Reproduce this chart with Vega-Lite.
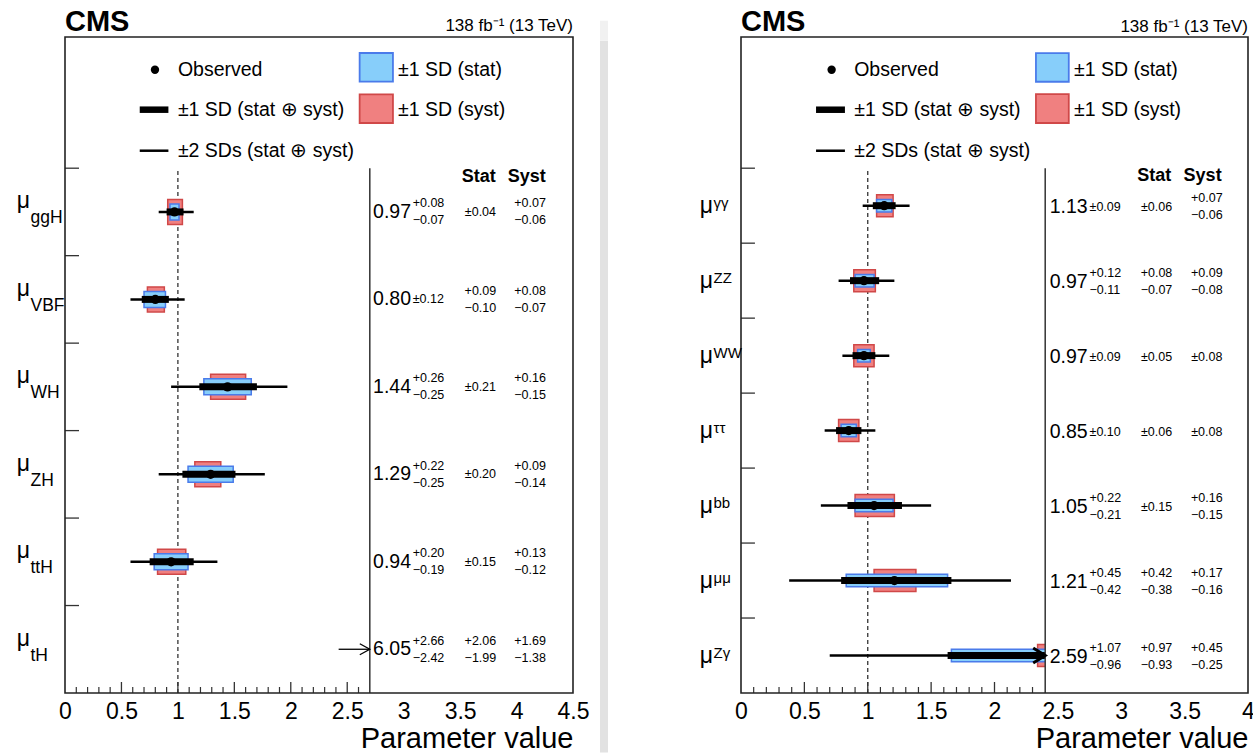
{
  "$schema": "https://vega.github.io/schema/vega-lite/v6.json",
  "background": "white",
  "padding": {"left": 16, "top": 8, "right": 0, "bottom": 0},
  "config": {"view": {"stroke": null}, "font": "Liberation Sans",
    "axisX": {"ticks": false, "domain": false, "grid": false, "labelFontSize": 23, "labelColor": "black", "labelPadding": 7, "labelFlush": false, "labelOverlap": false, "titleFontSize": 29, "titleFontWeight": "normal", "titleColor": "black", "titleAnchor": "end", "titlePadding": 1.5}},
  "datasets": {
    "prod": [
      {"sub": "ggH", "rank": 6, "val": 0.97, "t1a": 0.90, "t1b": 1.05, "sta": 0.93, "stb": 1.01, "sya": 0.91, "syb": 1.04, "t2a": 0.83, "t2b": 1.14, "valTxt": "0.97", "totUp": "+0.08", "totDn": "−0.07", "totSym": "", "statUp": "", "statDn": "", "statSym": "±0.04", "systUp": "+0.07", "systDn": "−0.06", "systSym": ""},
      {"sub": "VBF", "rank": 5, "val": 0.80, "t1a": 0.68, "t1b": 0.92, "sta": 0.70, "stb": 0.89, "sya": 0.73, "syb": 0.88, "t2a": 0.58, "t2b": 1.06, "valTxt": "0.80", "totUp": "", "totDn": "", "totSym": "±0.12", "statUp": "+0.09", "statDn": "−0.10", "statSym": "", "systUp": "+0.08", "systDn": "−0.07", "systSym": ""},
      {"sub": "WH", "rank": 4, "val": 1.44, "t1a": 1.19, "t1b": 1.70, "sta": 1.23, "stb": 1.65, "sya": 1.29, "syb": 1.60, "t2a": 0.94, "t2b": 1.97, "valTxt": "1.44", "totUp": "+0.26", "totDn": "−0.25", "totSym": "", "statUp": "", "statDn": "", "statSym": "±0.21", "systUp": "+0.16", "systDn": "−0.15", "systSym": ""},
      {"sub": "ZH", "rank": 3, "val": 1.29, "t1a": 1.04, "t1b": 1.51, "sta": 1.09, "stb": 1.49, "sya": 1.15, "syb": 1.38, "t2a": 0.83, "t2b": 1.77, "valTxt": "1.29", "totUp": "+0.22", "totDn": "−0.25", "totSym": "", "statUp": "", "statDn": "", "statSym": "±0.20", "systUp": "+0.09", "systDn": "−0.14", "systSym": ""},
      {"sub": "ttH", "rank": 2, "val": 0.94, "t1a": 0.75, "t1b": 1.14, "sta": 0.79, "stb": 1.09, "sya": 0.82, "syb": 1.07, "t2a": 0.58, "t2b": 1.35, "valTxt": "0.94", "totUp": "+0.20", "totDn": "−0.19", "totSym": "", "statUp": "", "statDn": "", "statSym": "±0.15", "systUp": "+0.13", "systDn": "−0.12", "systSym": ""},
      {"sub": "tH", "rank": 1, "val": 6.05, "t1a": 3.63, "t1b": 8.71, "sta": 4.06, "stb": 8.11, "sya": 4.67, "syb": 7.74, "t2a": null, "t2b": null, "valTxt": "6.05", "totUp": "+2.66", "totDn": "−2.42", "totSym": "", "statUp": "+2.06", "statDn": "−1.99", "statSym": "", "systUp": "+1.69", "systDn": "−1.38", "systSym": ""}
    ],
    "decay": [
      {"sub": "γγ", "rank": 7, "val": 1.13, "t1a": 1.04, "t1b": 1.22, "sta": 1.07, "stb": 1.19, "sya": 1.07, "syb": 1.20, "t2a": 0.96, "t2b": 1.33, "valTxt": "1.13", "totUp": "", "totDn": "", "totSym": "±0.09", "statUp": "", "statDn": "", "statSym": "±0.06", "systUp": "+0.07", "systDn": "−0.06", "systSym": ""},
      {"sub": "ZZ", "rank": 6, "val": 0.97, "t1a": 0.86, "t1b": 1.09, "sta": 0.90, "stb": 1.05, "sya": 0.89, "syb": 1.06, "t2a": 0.77, "t2b": 1.21, "valTxt": "0.97", "totUp": "+0.12", "totDn": "−0.11", "totSym": "", "statUp": "+0.08", "statDn": "−0.07", "statSym": "", "systUp": "+0.09", "systDn": "−0.08", "systSym": ""},
      {"sub": "WW", "rank": 5, "val": 0.97, "t1a": 0.88, "t1b": 1.06, "sta": 0.92, "stb": 1.02, "sya": 0.89, "syb": 1.05, "t2a": 0.80, "t2b": 1.17, "valTxt": "0.97", "totUp": "", "totDn": "", "totSym": "±0.09", "statUp": "", "statDn": "", "statSym": "±0.05", "systUp": "", "systDn": "", "systSym": "±0.08"},
      {"sub": "ττ", "rank": 4, "val": 0.85, "t1a": 0.75, "t1b": 0.95, "sta": 0.79, "stb": 0.91, "sya": 0.77, "syb": 0.93, "t2a": 0.66, "t2b": 1.06, "valTxt": "0.85", "totUp": "", "totDn": "", "totSym": "±0.10", "statUp": "", "statDn": "", "statSym": "±0.06", "systUp": "", "systDn": "", "systSym": "±0.08"},
      {"sub": "bb", "rank": 3, "val": 1.05, "t1a": 0.84, "t1b": 1.27, "sta": 0.90, "stb": 1.20, "sya": 0.90, "syb": 1.21, "t2a": 0.63, "t2b": 1.50, "valTxt": "1.05", "totUp": "+0.22", "totDn": "−0.21", "totSym": "", "statUp": "", "statDn": "", "statSym": "±0.15", "systUp": "+0.16", "systDn": "−0.15", "systSym": ""},
      {"sub": "μμ", "rank": 2, "val": 1.21, "t1a": 0.79, "t1b": 1.66, "sta": 0.83, "stb": 1.63, "sya": 1.05, "syb": 1.38, "t2a": 0.38, "t2b": 2.13, "valTxt": "1.21", "totUp": "+0.45", "totDn": "−0.42", "totSym": "", "statUp": "+0.42", "statDn": "−0.38", "statSym": "", "systUp": "+0.17", "systDn": "−0.16", "systSym": ""},
      {"sub": "Zγ", "rank": 1, "val": 2.59, "t1a": 1.63, "t1b": 3.66, "sta": 1.66, "stb": 3.56, "sya": 2.34, "syb": 3.04, "t2a": 0.70, "t2b": 4.7, "valTxt": "2.59", "totUp": "+1.07", "totDn": "−0.96", "totSym": "", "statUp": "+0.97", "statDn": "−0.93", "statSym": "", "systUp": "+0.45", "systDn": "−0.25", "systSym": ""}
    ],
    "majorTicks": [{"v": 0.5}, {"v": 1}, {"v": 1.5}, {"v": 2}, {"v": 2.5}],
    "minorTicks": [{"v": 0.1}, {"v": 0.2}, {"v": 0.3}, {"v": 0.4}, {"v": 0.6}, {"v": 0.7}, {"v": 0.8}, {"v": 0.9}, {"v": 1.1}, {"v": 1.2}, {"v": 1.3}, {"v": 1.4}, {"v": 1.6}, {"v": 1.7}, {"v": 1.8}, {"v": 1.9}, {"v": 2.1}, {"v": 2.2}, {"v": 2.3}, {"v": 2.4}, {"v": 2.6}],
    "rowTicks": [{"v": 1.5}, {"v": 2.5}, {"v": 3.5}, {"v": 4.5}, {"v": 5.5}, {"v": 6.5}, {"v": 7.5}]
  },
  "spacing": 168,
  "bounds": "flush",
  "hconcat": [
    {
      "width": 508,
      "height": 656,
      "layer": [
        {"data": {"values": [{}]}, "mark": {"type": "rect", "color": "#e2e2e2"},
         "encoding": {"x": {"datum": 4.739, "type": "quantitative"}, "x2": {"datum": 4.81}, "y": {"datum": -0.18, "type": "quantitative", "axis": null}, "y2": {"datum": 7.957}}},
        {"data": {"values": [{}]}, "mark": {"type": "rect", "color": "#f1f1f1"},
         "encoding": {"x": {"datum": 4.739, "type": "quantitative"}, "x2": {"datum": 4.81}, "y": {"datum": 7.957, "type": "quantitative", "axis": null}, "y2": {"datum": 8.186}}},
        {"data": {"values": [{}]}, "mark": {"type": "rule", "color": "#333", "strokeWidth": 1.3, "strokeDash": [4, 3]},
         "encoding": {"x": {"datum": 1, "type": "quantitative"}, "y": {"datum": 0.5, "type": "quantitative", "axis": null}, "y2": {"datum": 6.5}}},
        {"data": {"name": "prod"}, "mark": {"type": "bar", "orient": "horizontal", "size": 25, "fill": "#F08080", "stroke": "#D04848", "strokeWidth": 1.5, "clip": true},
         "encoding": {"x": {"field": "sya", "type": "quantitative"}, "x2": {"field": "syb"}, "y": {"field": "rank", "type": "quantitative", "axis": null}}},
        {"data": {"name": "prod"}, "mark": {"type": "bar", "orient": "horizontal", "size": 16, "fill": "#87CEFA", "stroke": "#4A7BEA", "strokeWidth": 1.5, "clip": true},
         "encoding": {"x": {"field": "sta", "type": "quantitative"}, "x2": {"field": "stb"}, "y": {"field": "rank", "type": "quantitative", "axis": null}}},
        {"data": {"name": "prod"}, "mark": {"type": "rule", "color": "black", "strokeWidth": 2.5, "clip": true},
         "encoding": {"x": {"field": "t2a", "type": "quantitative"}, "x2": {"field": "t2b"}, "y": {"field": "rank", "type": "quantitative", "axis": null}}},
        {"data": {"name": "prod"}, "mark": {"type": "rule", "color": "black", "strokeWidth": 7, "clip": true},
         "encoding": {"x": {"field": "t1a", "type": "quantitative"}, "x2": {"field": "t1b"}, "y": {"field": "rank", "type": "quantitative", "axis": null}}},
        {"data": {"name": "prod"}, "mark": {"type": "point", "filled": true, "color": "black", "size": 85, "opacity": 1, "clip": true},
         "encoding": {"x": {"field": "val", "type": "quantitative"}, "y": {"field": "rank", "type": "quantitative", "axis": null}}},
        {"data": {"values": [{}]}, "mark": {"type": "rect", "color": "white"},
         "encoding": {"x": {"datum": 2.7, "type": "quantitative"}, "x2": {"datum": 4.5}, "y": {"datum": 0.5, "type": "quantitative", "axis": null}, "y2": {"datum": 6.5}}},
        {"data": {"values": [{}]}, "mark": {"type": "rule", "color": "#333", "strokeWidth": 1.5},
         "encoding": {"x": {"datum": 2.7, "type": "quantitative"}, "y": {"datum": 0.5, "type": "quantitative", "axis": null}, "y2": {"datum": 6.5}}},
        {"data": {"name": "prod"}, "transform": [{"filter": "datum.val > 2.7"}], "mark": {"type": "rule", "color": "black", "strokeWidth": 1.3},
         "encoding": {"x": {"datum": 2.424, "type": "quantitative"}, "x2": {"datum": 2.7}, "y": {"field": "rank", "type": "quantitative", "axis": null}}},
        {"data": {"name": "prod"}, "transform": [{"filter": "datum.val > 2.7"}], "mark": {"type": "point", "shape": "M-1,-0.55L0,0L-1,0.55", "filled": false, "color": "black", "strokeWidth": 1.3, "size": 400, "opacity": 1},
         "encoding": {"x": {"datum": 2.7, "type": "quantitative"}, "y": {"field": "rank", "type": "quantitative", "axis": null}}},
        {"data": {"name": "rowTicks"}, "transform": [{"filter": "datum.v < 7"}], "mark": {"type": "rule", "color": "#333", "strokeWidth": 1.3},
         "encoding": {"x": {"datum": 0, "type": "quantitative"}, "x2": {"datum": 0.124}, "y": {"field": "v", "type": "quantitative", "axis": null}}},
        {"data": {"name": "majorTicks"}, "mark": {"type": "rule", "color": "#333", "strokeWidth": 1.3},
         "encoding": {
           "x": {"field": "v", "type": "quantitative", "scale": {"domain": [0, 4.5], "nice": false, "zero": false, "padding": 0},
                 "axis": {"values": [0, 0.5, 1, 1.5, 2, 2.5, 3, 3.5, 4, 4.5], "format": "~g", "ticks": false, "domain": false, "grid": false, "labelFontSize": 23, "labelColor": "black", "labelPadding": 7, "labelFlush": false, "labelOverlap": false, "title": "Parameter value", "titleFontSize": 29, "titleFontWeight": "normal", "titleColor": "black", "titleAnchor": "end", "titlePadding": 1.5}},
           "y": {"datum": 0.5, "type": "quantitative", "axis": null}, "y2": {"datum": 0.626}}},
        {"data": {"name": "minorTicks"}, "mark": {"type": "rule", "color": "#333", "strokeWidth": 1.2},
         "encoding": {"x": {"field": "v", "type": "quantitative"}, "y": {"datum": 0.5, "type": "quantitative", "axis": null}, "y2": {"datum": 0.5686}}},
        {"data": {"values": [{}]}, "mark": {"type": "rect", "fill": "transparent", "stroke": "#222", "strokeWidth": 1.6},
         "encoding": {"x": {"datum": 0, "type": "quantitative"}, "x2": {"datum": 4.5}, "y": {"datum": 0.5, "type": "quantitative", "scale": {"domain": [0.5, 8], "nice": false, "zero": false, "padding": 0}, "axis": null}, "y2": {"datum": 8}}},
        {"data": {"values": [{}]}, "mark": {"type": "text", "align": "left", "baseline": "alphabetic", "fontSize": 29, "fontWeight": "bold", "color": "black"},
         "encoding": {"text": {"value": "CMS"}, "x": {"datum": 0, "type": "quantitative"}, "y": {"datum": 8.066, "type": "quantitative", "axis": null}}},
        {"data": {"values": [{}]}, "mark": {"type": "text", "align": "right", "baseline": "alphabetic", "fontSize": 17, "color": "black"},
         "encoding": {"text": {"value": "138 fb⁻¹ (13 TeV)"}, "x": {"datum": 4.5, "type": "quantitative"}, "y": {"datum": 8.064, "type": "quantitative", "axis": null}}},
        {"data": {"values": [{}]}, "mark": {"type": "point", "filled": true, "color": "black", "size": 70, "opacity": 1},
         "encoding": {"x": {"datum": 0.797, "type": "quantitative"}, "y": {"datum": 7.626, "type": "quantitative", "axis": null}}},
        {"data": {"values": [{}]}, "mark": {"type": "rule", "color": "black", "strokeWidth": 6.5},
         "encoding": {"x": {"datum": 0.662, "type": "quantitative"}, "x2": {"datum": 0.916}, "y": {"datum": 7.169, "type": "quantitative", "axis": null}}},
        {"data": {"values": [{}]}, "mark": {"type": "rule", "color": "black", "strokeWidth": 2.5},
         "encoding": {"x": {"datum": 0.662, "type": "quantitative"}, "x2": {"datum": 0.916}, "y": {"datum": 6.70, "type": "quantitative", "axis": null}}},
        {"data": {"values": [{}]}, "mark": {"type": "rect", "fill": "#87CEFA", "stroke": "#4A7BEA", "strokeWidth": 1.8},
         "encoding": {"x": {"datum": 2.61, "type": "quantitative"}, "x2": {"datum": 2.905}, "y": {"datum": 7.489, "type": "quantitative", "axis": null}, "y2": {"datum": 7.817}}},
        {"data": {"values": [{}]}, "mark": {"type": "rect", "fill": "#F08080", "stroke": "#D04848", "strokeWidth": 1.8},
         "encoding": {"x": {"datum": 2.61, "type": "quantitative"}, "x2": {"datum": 2.905}, "y": {"datum": 7.017, "type": "quantitative", "axis": null}, "y2": {"datum": 7.345}}},
        {"data": {"values": [{}]}, "mark": {"type": "text", "align": "left", "baseline": "middle", "fontSize": 19.5, "color": "black"},
         "encoding": {"text": {"value": "Observed"}, "x": {"datum": 1.0, "type": "quantitative"}, "y": {"datum": 7.626, "type": "quantitative", "axis": null}}},
        {"data": {"values": [{}]}, "mark": {"type": "text", "align": "left", "baseline": "middle", "fontSize": 19.5, "color": "black"},
         "encoding": {"text": {"value": "±1 SD (stat ⊕ syst)"}, "x": {"datum": 1.0, "type": "quantitative"}, "y": {"datum": 7.169, "type": "quantitative", "axis": null}}},
        {"data": {"values": [{}]}, "mark": {"type": "text", "align": "left", "baseline": "middle", "fontSize": 19.5, "color": "black"},
         "encoding": {"text": {"value": "±2 SDs (stat ⊕ syst)"}, "x": {"datum": 1.0, "type": "quantitative"}, "y": {"datum": 6.70, "type": "quantitative", "axis": null}}},
        {"data": {"values": [{}]}, "mark": {"type": "text", "align": "left", "baseline": "middle", "fontSize": 19.5, "color": "black"},
         "encoding": {"text": {"value": "±1 SD (stat)"}, "x": {"datum": 2.95, "type": "quantitative"}, "y": {"datum": 7.626, "type": "quantitative", "axis": null}}},
        {"data": {"values": [{}]}, "mark": {"type": "text", "align": "left", "baseline": "middle", "fontSize": 19.5, "color": "black"},
         "encoding": {"text": {"value": "±1 SD (syst)"}, "x": {"datum": 2.95, "type": "quantitative"}, "y": {"datum": 7.169, "type": "quantitative", "axis": null}}},
        {"data": {"values": [{}]}, "mark": {"type": "text", "align": "center", "baseline": "middle", "fontSize": 18, "fontWeight": "bold", "color": "black"},
         "encoding": {"text": {"value": "Stat"}, "x": {"datum": 3.665, "type": "quantitative"}, "y": {"datum": 6.395, "type": "quantitative", "axis": null}}},
        {"data": {"values": [{}]}, "mark": {"type": "text", "align": "center", "baseline": "middle", "fontSize": 18, "fontWeight": "bold", "color": "black"},
         "encoding": {"text": {"value": "Syst"}, "x": {"datum": 4.09, "type": "quantitative"}, "y": {"datum": 6.395, "type": "quantitative", "axis": null}}},
        {"data": {"name": "prod"}, "mark": {"type": "text", "align": "right", "baseline": "middle", "fontSize": 19.5, "color": "black"},
         "encoding": {"text": {"field": "valTxt"}, "x": {"datum": 3.065, "type": "quantitative"}, "y": {"field": "rank", "type": "quantitative", "axis": null}}},
        {"data": {"name": "prod"}, "mark": {"type": "text", "align": "left", "baseline": "middle", "fontSize": 12.5, "dy": -8.5, "color": "black"},
         "encoding": {"text": {"field": "totUp"}, "x": {"datum": 3.08, "type": "quantitative"}, "y": {"field": "rank", "type": "quantitative", "axis": null}}},
        {"data": {"name": "prod"}, "mark": {"type": "text", "align": "left", "baseline": "middle", "fontSize": 12.5, "dy": 8.5, "color": "black"},
         "encoding": {"text": {"field": "totDn"}, "x": {"datum": 3.08, "type": "quantitative"}, "y": {"field": "rank", "type": "quantitative", "axis": null}}},
        {"data": {"name": "prod"}, "mark": {"type": "text", "align": "left", "baseline": "middle", "fontSize": 12.5, "color": "black"},
         "encoding": {"text": {"field": "totSym"}, "x": {"datum": 3.08, "type": "quantitative"}, "y": {"field": "rank", "type": "quantitative", "axis": null}}},
        {"data": {"name": "prod"}, "mark": {"type": "text", "align": "center", "baseline": "middle", "fontSize": 12.5, "dy": -8.5, "color": "black"},
         "encoding": {"text": {"field": "statUp"}, "x": {"datum": 3.68, "type": "quantitative"}, "y": {"field": "rank", "type": "quantitative", "axis": null}}},
        {"data": {"name": "prod"}, "mark": {"type": "text", "align": "center", "baseline": "middle", "fontSize": 12.5, "dy": 8.5, "color": "black"},
         "encoding": {"text": {"field": "statDn"}, "x": {"datum": 3.68, "type": "quantitative"}, "y": {"field": "rank", "type": "quantitative", "axis": null}}},
        {"data": {"name": "prod"}, "mark": {"type": "text", "align": "center", "baseline": "middle", "fontSize": 12.5, "color": "black"},
         "encoding": {"text": {"field": "statSym"}, "x": {"datum": 3.68, "type": "quantitative"}, "y": {"field": "rank", "type": "quantitative", "axis": null}}},
        {"data": {"name": "prod"}, "mark": {"type": "text", "align": "center", "baseline": "middle", "fontSize": 12.5, "dy": -8.5, "color": "black"},
         "encoding": {"text": {"field": "systUp"}, "x": {"datum": 4.12, "type": "quantitative"}, "y": {"field": "rank", "type": "quantitative", "axis": null}}},
        {"data": {"name": "prod"}, "mark": {"type": "text", "align": "center", "baseline": "middle", "fontSize": 12.5, "dy": 8.5, "color": "black"},
         "encoding": {"text": {"field": "systDn"}, "x": {"datum": 4.12, "type": "quantitative"}, "y": {"field": "rank", "type": "quantitative", "axis": null}}},
        {"data": {"name": "prod"}, "mark": {"type": "text", "align": "center", "baseline": "middle", "fontSize": 12.5, "color": "black"},
         "encoding": {"text": {"field": "systSym"}, "x": {"datum": 4.12, "type": "quantitative"}, "y": {"field": "rank", "type": "quantitative", "axis": null}}},
        {"data": {"name": "prod"}, "mark": {"type": "text", "align": "right", "baseline": "alphabetic", "fontSize": 23, "dy": -3.5, "color": "black"},
         "encoding": {"text": {"value": "μ"}, "x": {"datum": -0.31, "type": "quantitative"}, "y": {"field": "rank", "type": "quantitative", "axis": null}}},
        {"data": {"name": "prod"}, "mark": {"type": "text", "align": "left", "baseline": "alphabetic", "fontSize": 17.5, "dy": 11.3, "color": "black"},
         "encoding": {"text": {"field": "sub"}, "x": {"datum": -0.306, "type": "quantitative"}, "y": {"field": "rank", "type": "quantitative", "axis": null}}}
      ]
    },
    {
      "width": 507,
      "height": 656,
      "layer": [
        {"data": {"values": [{}]}, "mark": {"type": "rule", "color": "#333", "strokeWidth": 1.3, "strokeDash": [4, 3]},
         "encoding": {"x": {"datum": 1, "type": "quantitative"}, "y": {"datum": 0.5, "type": "quantitative", "axis": null}, "y2": {"datum": 7.5}}},
        {"data": {"name": "decay"}, "mark": {"type": "bar", "orient": "horizontal", "size": 22, "fill": "#F08080", "stroke": "#D04848", "strokeWidth": 1.5, "clip": true},
         "encoding": {"x": {"field": "sya", "type": "quantitative"}, "x2": {"field": "syb"}, "y": {"field": "rank", "type": "quantitative", "axis": null}}},
        {"data": {"name": "decay"}, "mark": {"type": "bar", "orient": "horizontal", "size": 12.5, "fill": "#87CEFA", "stroke": "#4A7BEA", "strokeWidth": 1.5, "clip": true},
         "encoding": {"x": {"field": "sta", "type": "quantitative"}, "x2": {"field": "stb"}, "y": {"field": "rank", "type": "quantitative", "axis": null}}},
        {"data": {"name": "decay"}, "mark": {"type": "rule", "color": "black", "strokeWidth": 2.5, "clip": true},
         "encoding": {"x": {"field": "t2a", "type": "quantitative"}, "x2": {"field": "t2b"}, "y": {"field": "rank", "type": "quantitative", "axis": null}}},
        {"data": {"name": "decay"}, "mark": {"type": "rule", "color": "black", "strokeWidth": 7, "clip": true},
         "encoding": {"x": {"field": "t1a", "type": "quantitative"}, "x2": {"field": "t1b"}, "y": {"field": "rank", "type": "quantitative", "axis": null}}},
        {"data": {"name": "decay"}, "mark": {"type": "point", "filled": true, "color": "black", "size": 85, "opacity": 1, "clip": true},
         "encoding": {"x": {"field": "val", "type": "quantitative"}, "y": {"field": "rank", "type": "quantitative", "axis": null}}},
        {"data": {"values": [{}]}, "mark": {"type": "rect", "color": "white"},
         "encoding": {"x": {"datum": 2.4, "type": "quantitative"}, "x2": {"datum": 4.0}, "y": {"datum": 0.5, "type": "quantitative", "axis": null}, "y2": {"datum": 7.5}}},
        {"data": {"values": [{}]}, "mark": {"type": "rule", "color": "#333", "strokeWidth": 1.5},
         "encoding": {"x": {"datum": 2.4, "type": "quantitative"}, "y": {"datum": 0.5, "type": "quantitative", "axis": null}, "y2": {"datum": 7.5}}},
        {"data": {"name": "decay"}, "transform": [{"filter": "datum.val > 2.4"}], "mark": {"type": "point", "shape": "M-1,-0.62L0,0L-1,0.62", "filled": false, "color": "black", "strokeWidth": 3, "size": 576, "opacity": 1},
         "encoding": {"x": {"datum": 2.4, "type": "quantitative"}, "y": {"field": "rank", "type": "quantitative", "axis": null}}},
        {"data": {"name": "rowTicks"}, "mark": {"type": "rule", "color": "#333", "strokeWidth": 1.3},
         "encoding": {"x": {"datum": 0, "type": "quantitative"}, "x2": {"datum": 0.11}, "y": {"field": "v", "type": "quantitative", "axis": null}}},
        {"data": {"name": "majorTicks"}, "transform": [{"filter": "datum.v < 2.4"}], "mark": {"type": "rule", "color": "#333", "strokeWidth": 1.3},
         "encoding": {
           "x": {"field": "v", "type": "quantitative", "scale": {"domain": [0, 4], "nice": false, "zero": false, "padding": 0},
                 "axis": {"values": [0, 0.5, 1, 1.5, 2, 2.5, 3, 3.5, 4], "format": "~g", "ticks": false, "domain": false, "grid": false, "labelFontSize": 23, "labelColor": "black", "labelPadding": 7, "labelFlush": false, "labelOverlap": false, "title": "Parameter value", "titleFontSize": 29, "titleFontWeight": "normal", "titleColor": "black", "titleAnchor": "end", "titlePadding": 1.5}},
           "y": {"datum": 0.5, "type": "quantitative", "axis": null}, "y2": {"datum": 0.6467}}},
        {"data": {"name": "minorTicks"}, "transform": [{"filter": "datum.v < 2.35"}], "mark": {"type": "rule", "color": "#333", "strokeWidth": 1.2},
         "encoding": {"x": {"field": "v", "type": "quantitative"}, "y": {"datum": 0.5, "type": "quantitative", "axis": null}, "y2": {"datum": 0.58}}},
        {"data": {"values": [{}]}, "mark": {"type": "rect", "fill": "transparent", "stroke": "#222", "strokeWidth": 1.6},
         "encoding": {"x": {"datum": 0, "type": "quantitative"}, "x2": {"datum": 4}, "y": {"datum": 0.5, "type": "quantitative", "scale": {"domain": [0.5, 9.25], "nice": false, "zero": false, "padding": 0}, "axis": null}, "y2": {"datum": 9.25}}},
        {"data": {"values": [{}]}, "mark": {"type": "text", "align": "left", "baseline": "alphabetic", "fontSize": 29, "fontWeight": "bold", "color": "black"},
         "encoding": {"text": {"value": "CMS"}, "x": {"datum": 0, "type": "quantitative"}, "y": {"datum": 9.327, "type": "quantitative", "axis": null}}},
        {"data": {"values": [{}]}, "mark": {"type": "text", "align": "right", "baseline": "alphabetic", "fontSize": 17, "color": "black"},
         "encoding": {"text": {"value": "138 fb⁻¹ (13 TeV)"}, "x": {"datum": 4, "type": "quantitative"}, "y": {"datum": 9.323, "type": "quantitative", "axis": null}}},
        {"data": {"values": [{}]}, "mark": {"type": "point", "filled": true, "color": "black", "size": 70, "opacity": 1},
         "encoding": {"x": {"datum": 0.715, "type": "quantitative"}, "y": {"datum": 8.813, "type": "quantitative", "axis": null}}},
        {"data": {"values": [{}]}, "mark": {"type": "rule", "color": "black", "strokeWidth": 6.5},
         "encoding": {"x": {"datum": 0.592, "type": "quantitative"}, "x2": {"datum": 0.82}, "y": {"datum": 8.28, "type": "quantitative", "axis": null}}},
        {"data": {"values": [{}]}, "mark": {"type": "rule", "color": "black", "strokeWidth": 2.5},
         "encoding": {"x": {"datum": 0.592, "type": "quantitative"}, "x2": {"datum": 0.82}, "y": {"datum": 7.733, "type": "quantitative", "axis": null}}},
        {"data": {"values": [{}]}, "mark": {"type": "rect", "fill": "#87CEFA", "stroke": "#4A7BEA", "strokeWidth": 1.8},
         "encoding": {"x": {"datum": 2.327, "type": "quantitative"}, "x2": {"datum": 2.586}, "y": {"datum": 8.653, "type": "quantitative", "axis": null}, "y2": {"datum": 9.036}}},
        {"data": {"values": [{}]}, "mark": {"type": "rect", "fill": "#F08080", "stroke": "#D04848", "strokeWidth": 1.8},
         "encoding": {"x": {"datum": 2.327, "type": "quantitative"}, "x2": {"datum": 2.586}, "y": {"datum": 8.103, "type": "quantitative", "axis": null}, "y2": {"datum": 8.489}}},
        {"data": {"values": [{}]}, "mark": {"type": "text", "align": "left", "baseline": "middle", "fontSize": 19.5, "color": "black"},
         "encoding": {"text": {"value": "Observed"}, "x": {"datum": 0.893, "type": "quantitative"}, "y": {"datum": 8.813, "type": "quantitative", "axis": null}}},
        {"data": {"values": [{}]}, "mark": {"type": "text", "align": "left", "baseline": "middle", "fontSize": 19.5, "color": "black"},
         "encoding": {"text": {"value": "±1 SD (stat ⊕ syst)"}, "x": {"datum": 0.893, "type": "quantitative"}, "y": {"datum": 8.28, "type": "quantitative", "axis": null}}},
        {"data": {"values": [{}]}, "mark": {"type": "text", "align": "left", "baseline": "middle", "fontSize": 19.5, "color": "black"},
         "encoding": {"text": {"value": "±2 SDs (stat ⊕ syst)"}, "x": {"datum": 0.893, "type": "quantitative"}, "y": {"datum": 7.733, "type": "quantitative", "axis": null}}},
        {"data": {"values": [{}]}, "mark": {"type": "text", "align": "left", "baseline": "middle", "fontSize": 19.5, "color": "black"},
         "encoding": {"text": {"value": "±1 SD (stat)"}, "x": {"datum": 2.627, "type": "quantitative"}, "y": {"datum": 8.813, "type": "quantitative", "axis": null}}},
        {"data": {"values": [{}]}, "mark": {"type": "text", "align": "left", "baseline": "middle", "fontSize": 19.5, "color": "black"},
         "encoding": {"text": {"value": "±1 SD (syst)"}, "x": {"datum": 2.627, "type": "quantitative"}, "y": {"datum": 8.28, "type": "quantitative", "axis": null}}},
        {"data": {"values": [{}]}, "mark": {"type": "text", "align": "center", "baseline": "middle", "fontSize": 18, "fontWeight": "bold", "color": "black"},
         "encoding": {"text": {"value": "Stat"}, "x": {"datum": 3.26, "type": "quantitative"}, "y": {"datum": 7.4, "type": "quantitative", "axis": null}}},
        {"data": {"values": [{}]}, "mark": {"type": "text", "align": "center", "baseline": "middle", "fontSize": 18, "fontWeight": "bold", "color": "black"},
         "encoding": {"text": {"value": "Syst"}, "x": {"datum": 3.642, "type": "quantitative"}, "y": {"datum": 7.4, "type": "quantitative", "axis": null}}},
        {"data": {"name": "decay"}, "mark": {"type": "text", "align": "right", "baseline": "middle", "fontSize": 19.5, "dy": 1, "color": "black"},
         "encoding": {"text": {"field": "valTxt"}, "x": {"datum": 2.735, "type": "quantitative"}, "y": {"field": "rank", "type": "quantitative", "axis": null}}},
        {"data": {"name": "decay"}, "mark": {"type": "text", "align": "left", "baseline": "middle", "fontSize": 12.5, "dy": -7.5, "color": "black"},
         "encoding": {"text": {"field": "totUp"}, "x": {"datum": 2.75, "type": "quantitative"}, "y": {"field": "rank", "type": "quantitative", "axis": null}}},
        {"data": {"name": "decay"}, "mark": {"type": "text", "align": "left", "baseline": "middle", "fontSize": 12.5, "dy": 9.5, "color": "black"},
         "encoding": {"text": {"field": "totDn"}, "x": {"datum": 2.75, "type": "quantitative"}, "y": {"field": "rank", "type": "quantitative", "axis": null}}},
        {"data": {"name": "decay"}, "mark": {"type": "text", "align": "left", "baseline": "middle", "fontSize": 12.5, "dy": 1, "color": "black"},
         "encoding": {"text": {"field": "totSym"}, "x": {"datum": 2.75, "type": "quantitative"}, "y": {"field": "rank", "type": "quantitative", "axis": null}}},
        {"data": {"name": "decay"}, "mark": {"type": "text", "align": "center", "baseline": "middle", "fontSize": 12.5, "dy": -7.5, "color": "black"},
         "encoding": {"text": {"field": "statUp"}, "x": {"datum": 3.278, "type": "quantitative"}, "y": {"field": "rank", "type": "quantitative", "axis": null}}},
        {"data": {"name": "decay"}, "mark": {"type": "text", "align": "center", "baseline": "middle", "fontSize": 12.5, "dy": 9.5, "color": "black"},
         "encoding": {"text": {"field": "statDn"}, "x": {"datum": 3.278, "type": "quantitative"}, "y": {"field": "rank", "type": "quantitative", "axis": null}}},
        {"data": {"name": "decay"}, "mark": {"type": "text", "align": "center", "baseline": "middle", "fontSize": 12.5, "dy": 1, "color": "black"},
         "encoding": {"text": {"field": "statSym"}, "x": {"datum": 3.278, "type": "quantitative"}, "y": {"field": "rank", "type": "quantitative", "axis": null}}},
        {"data": {"name": "decay"}, "mark": {"type": "text", "align": "center", "baseline": "middle", "fontSize": 12.5, "dy": -7.5, "color": "black"},
         "encoding": {"text": {"field": "systUp"}, "x": {"datum": 3.675, "type": "quantitative"}, "y": {"field": "rank", "type": "quantitative", "axis": null}}},
        {"data": {"name": "decay"}, "mark": {"type": "text", "align": "center", "baseline": "middle", "fontSize": 12.5, "dy": 9.5, "color": "black"},
         "encoding": {"text": {"field": "systDn"}, "x": {"datum": 3.675, "type": "quantitative"}, "y": {"field": "rank", "type": "quantitative", "axis": null}}},
        {"data": {"name": "decay"}, "mark": {"type": "text", "align": "center", "baseline": "middle", "fontSize": 12.5, "dy": 1, "color": "black"},
         "encoding": {"text": {"field": "systSym"}, "x": {"datum": 3.675, "type": "quantitative"}, "y": {"field": "rank", "type": "quantitative", "axis": null}}},
        {"data": {"name": "decay"}, "mark": {"type": "text", "align": "right", "baseline": "alphabetic", "fontSize": 23, "dy": 7, "color": "black"},
         "encoding": {"text": {"value": "μ"}, "x": {"datum": -0.221, "type": "quantitative"}, "y": {"field": "rank", "type": "quantitative", "axis": null}}},
        {"data": {"name": "decay"}, "mark": {"type": "text", "align": "left", "baseline": "alphabetic", "fontSize": 15, "dy": 2, "color": "black"},
         "encoding": {"text": {"field": "sub"}, "x": {"datum": -0.217, "type": "quantitative"}, "y": {"field": "rank", "type": "quantitative", "axis": null}}}
      ]
    }
  ]
}
